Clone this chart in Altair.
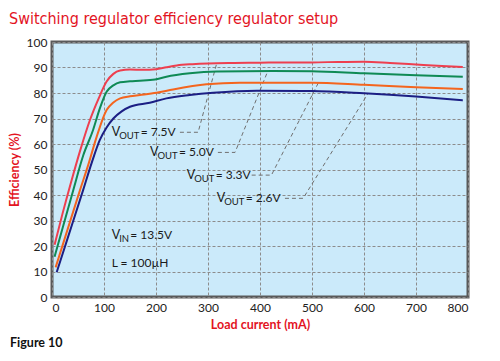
import altair as alt
import pandas as pd

# ---------------- data ----------------
series_names = ["7.5V", "5.0V", "3.3V", "2.6V"]
series_colors = ["#ee3f4f", "#0f8a55", "#f4651e", "#1c1f84"]

red_load = [5, 20, 38, 55, 73, 90, 105, 118, 131, 150, 175, 200, 220, 240, 270, 300, 350, 400, 450, 500, 550, 600, 650, 700, 750, 790]
red_eff = [20.5, 32.5, 46, 58, 69.4, 78, 84.5, 87.5, 88.8, 89.2, 89.1, 89.3, 90.1, 90.8, 91.3, 91.6, 91.8, 91.9, 92.0, 92.0, 92.2, 92.3, 91.8, 91.2, 90.6, 90.2]

green_load = [5, 20, 41, 60, 79, 92, 105, 118, 131, 150, 169, 198, 220, 265, 317, 425, 500, 600, 700, 790]
green_eff = [15.8, 26.8, 42, 55.5, 65.5, 74, 80.5, 83, 84.2, 84.6, 84.8, 85.3, 86.4, 87.7, 88.4, 88.6, 88.5, 87.7, 87.0, 86.4]

orange_load = [7, 30, 54, 70, 86, 105, 118, 131, 150, 169, 201, 233, 297, 361, 500, 600, 700, 790]
orange_eff = [11.6, 26.5, 42, 52, 62.9, 73.3, 76.3, 77.9, 78.7, 79.2, 80.1, 81.4, 83.4, 84.0, 84.0, 83.2, 82.3, 81.6]

navy_load = [9, 30, 60, 76, 92, 105, 118, 134, 150, 188, 220, 265, 310, 394, 500, 600, 700, 790]
navy_eff = [9.7, 23, 42, 52.4, 61.6, 66.5, 70, 72.8, 74.6, 76.2, 77.9, 79.2, 80.1, 80.9, 80.8, 79.9, 78.6, 77.1]

# annotation labels (anchor = left of "V", vertical middle), in data units
label_values = ["= 7.5V", "= 5.0V", "= 3.3V", "= 2.6V"]
label_load = [114.8, 188.5, 259, 316.7]
label_eff = [64.6, 56.7, 47.8, 38.7]

# leader lines: horizontal start, horizontal end, curve point
leader_h_start = [246, 319, 384, 448]
leader_h_end = [281, 352, 422, 483]
leader_level = [64.6, 56.7, 47.8, 38.7]
leader_curve_load = [317, 415, 512, 608]
leader_curve_eff = [91.8, 88.6, 83.9, 79.9]

note_vin = "= 13.5V"
note_vin_pos = (114.8, 24.3)
note_l = "L = 100µH"
note_l_pos = (114.8, 13.2)

x_ticks = list(range(0, 801, 100))
y_ticks = list(range(0, 101, 10))

# ---------------- tables ----------------
rows = []
for name, loads, effs in zip(series_names,
                             [red_load, green_load, orange_load, navy_load],
                             [red_eff, green_eff, orange_eff, navy_eff]):
    for i, (l, e) in enumerate(zip(loads, effs)):
        rows.append({"series": name, "load": l, "eff": e, "order": i})
curves = pd.DataFrame(rows)

lrows = []
for name, hs, he, lv, cl, ce in zip(series_names, leader_h_start, leader_h_end,
                                    leader_level, leader_curve_load, leader_curve_eff):
    lrows += [
        {"series": name, "load": hs, "eff": lv, "order": 0},
        {"series": name, "load": he, "eff": lv, "order": 1},
        {"series": name, "load": cl, "eff": ce, "order": 2},
    ]
leaders = pd.DataFrame(lrows)

labels = pd.DataFrame({"load": label_load, "eff": label_eff, "rest": label_values})
vin = pd.DataFrame({"load": [note_vin_pos[0]], "eff": [note_vin_pos[1]], "rest": [note_vin]})
lnote = pd.DataFrame({"load": [note_l_pos[0]], "eff": [note_l_pos[1]], "rest": [note_l]})

FONT = "Lato"
RED = "#e3141f"

xs = alt.Scale(domain=[0, 800], nice=False)
ys = alt.Scale(domain=[0, 100], nice=False)

x_axis = alt.Axis(values=x_ticks, title="Load current (mA)", grid=True,
                  ticks=False, domain=False, labelPadding=5,
                  titleY=27, titleBaseline="middle")
y_axis = alt.Axis(values=y_ticks, title="Efficiency (%)", grid=True,
                  ticks=False, domain=False, labelPadding=5,
                  titleX=-38, titleBaseline="middle")

X = alt.X("load:Q", scale=xs, axis=x_axis)
Y = alt.Y("eff:Q", scale=ys, axis=y_axis)

lead = alt.Chart(leaders).mark_line(strokeWidth=1, color="#707070", strokeDash=[4, 3]).encode(
    x=X, y=Y, detail="series:N", order="order:Q"
)

lines = alt.Chart(curves).mark_line(strokeWidth=2, interpolate="monotone").encode(
    x=X, y=Y,
    color=alt.Color("series:N", scale=alt.Scale(domain=series_names, range=series_colors), legend=None),
    order="order:Q",
)

def sub_label(df, sub, sub_dx, rest_dx):
    base = alt.Chart(df)
    v = base.mark_text(text="V", align="left", baseline="middle", font=FONT, fontSize=12.5,
                       color="#1a1a1a").encode(x=X, y=Y)
    s = base.mark_text(text=sub, align="left", baseline="middle", font=FONT, fontSize=9.5,
                       color="#1a1a1a", dx=sub_dx, dy=4).encode(x=X, y=Y)
    r = base.mark_text(align="left", baseline="middle", font=FONT, fontSize=12,
                       color="#1a1a1a", dx=rest_dx).encode(x=X, y=Y, text="rest:N")
    return v + s + r

vout_labels = sub_label(labels, "OUT", 7.5, 29)
vin_label = sub_label(vin, "IN", 7.5, 18.5)
l_label = alt.Chart(lnote).mark_text(align="left", baseline="middle", font=FONT, fontSize=12,
                                     color="#1a1a1a").encode(x=X, y=Y, text="rest:N")

fig = alt.Chart(pd.DataFrame({"t": ["Figure 10"]})).mark_text(
    align="left", baseline="middle", font=FONT, fontSize=12.5, fontWeight="bold", color="#111"
).encode(x=alt.value(-42), y=alt.value(301), text="t:N")

chart = alt.layer(lead, lines, vout_labels, vin_label, l_label, fig).properties(
    width=416, height=255,
    autosize=alt.AutoSizeParams(type="none"),
    padding={"left": 44, "top": 34, "right": 16, "bottom": 56},
    background="white",
    title=alt.TitleParams("Switching regulator efficiency regulator setup", anchor="start",
                          font="Liberation Sans Narrow, DejaVu Sans Condensed, sans-serif",
                          fontSize=16, fontWeight="normal", color="#e3141f", dx=1, offset=9),
).configure_view(
    fill="#cbeafa", stroke="#5a5a5a", strokeWidth=3
).configure_axis(
    gridColor="#8c8c8c", gridDash=[3, 2], gridWidth=1, gridOpacity=1,
    labelFont=FONT, labelFontSize=12, labelColor="#222",
    titleFont=FONT, titleFontSize=12.5, titleFontWeight="bold", titleColor=RED,
)

chart.save("out.html", embed_options={"renderer": "svg", "actions": False})
